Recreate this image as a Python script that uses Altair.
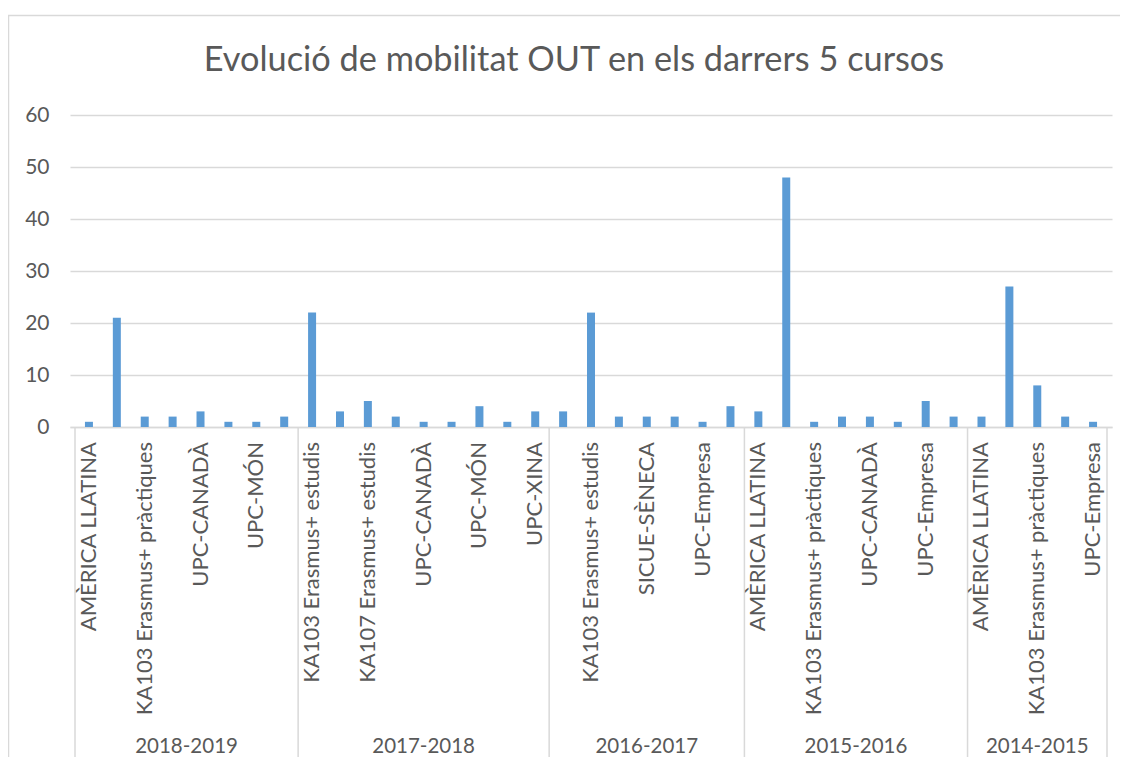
import altair as alt
import pandas as pd

TITLE = "Evolució de mobilitat OUT en els darrers 5 cursos"

groups = ["2018-2019", "2017-2018", "2016-2017", "2015-2016", "2014-2015"]

cats_2018_2019 = ["AMÈRICA LLATINA", "KA103 Erasmus+ estudis", "KA103 Erasmus+ pràctiques",
                  "KA107 Erasmus+ estudis", "UPC-CANADÀ", "UPC-Empresa", "UPC-MÓN", "UPC-XINA"]
vals_2018_2019 = [1, 21, 2, 2, 3, 1, 1, 2]

cats_2017_2018 = ["KA103 Erasmus+ estudis", "KA103 Erasmus+ pràctiques", "KA107 Erasmus+ estudis",
                  "SICUE-SÈNECA", "UPC-CANADÀ", "UPC-Empresa", "UPC-MÓN", "UPC-USA", "UPC-XINA"]
vals_2017_2018 = [22, 3, 5, 2, 1, 1, 4, 1, 3]

cats_2016_2017 = ["AMÈRICA LLATINA", "KA103 Erasmus+ estudis", "KA103 Erasmus+ pràctiques",
                  "SICUE-SÈNECA", "UPC-CANADÀ", "UPC-Empresa", "UPC-XINA"]
vals_2016_2017 = [3, 22, 2, 2, 2, 1, 4]

cats_2015_2016 = ["AMÈRICA LLATINA", "KA103 Erasmus+ estudis", "KA103 Erasmus+ pràctiques",
                  "SICUE-SÈNECA", "UPC-CANADÀ", "UPC-COREA", "UPC-Empresa", "UPC-MÓN"]
vals_2015_2016 = [3, 48, 1, 2, 2, 1, 5, 2]

cats_2014_2015 = ["AMÈRICA LLATINA", "KA103 Erasmus+ estudis", "KA103 Erasmus+ pràctiques",
                  "SICUE-SÈNECA", "UPC-Empresa"]
vals_2014_2015 = [2, 27, 8, 2, 1]

y_ticks = [0, 10, 20, 30, 40, 50, 60]

all_cats = [cats_2018_2019, cats_2017_2018, cats_2016_2017, cats_2015_2016, cats_2014_2015]
all_vals = [vals_2018_2019, vals_2017_2018, vals_2016_2017, vals_2015_2016, vals_2014_2015]

rows, grows, bounds = [], [], []
idx = 0
for g, cs, vs in zip(groups, all_cats, all_vals):
    start = idx
    bounds.append(start)
    for c, v in zip(cs, vs):
        rows.append({"grup": g, "categoria": c, "valor": v, "idx": idx})
        idx += 1
    grows.append({"grup": g, "start": start, "end": idx})
bounds.append(idx)
N = idx

df = pd.DataFrame(rows)
gdf = pd.DataFrame(grows)
bdf = pd.DataFrame({"b": bounds})

FONT = "Lato"
TXT = "#595959"
GRID = "#D9D9D9"
W, H = 1042, 312
BOTTOM = 330

xscale = alt.Scale(domain=[0, N], nice=False, zero=False)
yscale = alt.Scale(domain=[0, 60], nice=False)

base = alt.Chart(df).transform_calculate(pos="datum.idx + 0.5")

bars = base.mark_bar(size=8, color="#5B9BD5").encode(
    x=alt.X("pos:Q", scale=xscale,
            axis=alt.Axis(labels=False, ticks=False, grid=False, title=None,
                          domainColor=GRID, domainWidth=1.5)),
    y=alt.Y("valor:Q", scale=yscale,
            axis=alt.Axis(values=y_ticks, grid=True, gridColor=GRID, gridWidth=1.5,
                          domain=False, ticks=False, title=None,
                          labelFont=FONT, labelFontSize=21, labelColor=TXT, labelPadding=21)),
    tooltip=["grup:N", "categoria:N", "valor:Q"],
)

labels = base.transform_filter("datum.idx % 2 == 0").mark_text(
    angle=270, align="right", baseline="middle", font=FONT, fontSize=22, color=TXT
).encode(
    x=alt.X("pos:Q", scale=xscale),
    y=alt.value(327),
    text="categoria:N",
)

seps = alt.Chart(bdf).mark_rule(color=GRID, strokeWidth=1.5).encode(
    x=alt.X("b:Q", scale=xscale),
    y=alt.value(H),
    y2=alt.value(H + BOTTOM),
)

glabels = alt.Chart(gdf).transform_calculate(mid="(datum.start + datum.end) / 2").mark_text(
    align="center", baseline="alphabetic", font=FONT, fontSize=20.5, color=TXT
).encode(
    x=alt.X("mid:Q", scale=xscale),
    y=alt.value(638),
    text="grup:N",
)

frame_df = pd.DataFrame({"t": [TITLE]})
border = alt.Chart(frame_df).mark_rect(fillOpacity=0, stroke=GRID, strokeWidth=1.5).encode(
    x=alt.value(-61.5), x2=alt.value(1200), y=alt.value(-99.5), y2=alt.value(800)
)

title = alt.Chart(frame_df).mark_text(
    align="center", baseline="alphabetic", font=FONT, fontSize=34.3, color=TXT
).encode(x=alt.value(504), y=alt.value(-44), text="t:N")

chart = alt.layer(border, title, seps, bars, labels, glabels).properties(
    width=W, height=H,
    padding={"left": 62, "top": 107, "right": 8, "bottom": BOTTOM},
    autosize="none",
).configure_view(strokeWidth=0)

chart.save("out.html", embed_options={"renderer": "svg", "actions": False})
